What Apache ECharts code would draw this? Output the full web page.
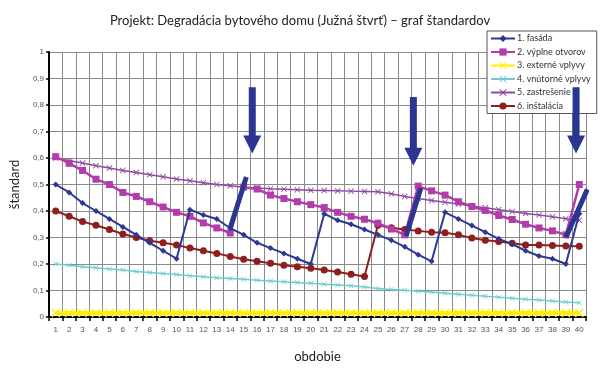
<!DOCTYPE html>
<html>
<head>
<meta charset="utf-8">
<script src="https://cdn.jsdelivr.net/npm/echarts@6/dist/echarts.min.js"></script>
<style>html,body{margin:0;padding:0;background:#fff}#c{width:600px;height:368px}</style>
</head>
<body>
<div id="c"></div>
<script>
const periods = ['1','2','3','4','5','6','7','8','9','10','11','12','13','14','15','16','17','18','19','20',
  '21','22','23','24','25','26','27','28','29','30','31','32','33','34','35','36','37','38','39','40'];
const yTicks = [0,0.1,0.2,0.3,0.4,0.5,0.6,0.7,0.8,0.9,1];

const fasada = [0.50,0.47,0.43,0.40,0.37,0.34,0.31,0.28,0.25,0.22,
  0.405,0.385,0.37,0.335,0.31,0.28,0.26,0.24,0.22,0.20,
  0.39,0.365,0.35,0.33,0.31,0.29,0.265,0.235,0.21,0.395,
  0.37,0.345,0.32,0.295,0.275,0.25,0.23,0.22,0.20,0.39];
const vyplne = [0.605,0.58,0.553,0.52,0.50,0.47,0.455,0.435,0.415,0.395,
  0.38,0.355,0.336,0.317,0.49,0.483,0.46,0.447,0.435,0.424,
  0.413,0.395,0.38,0.369,0.354,0.332,0.31,0.494,0.476,0.46,
  0.435,0.417,0.402,0.383,0.368,0.35,0.336,0.325,0.31,0.50];
const externe = [0.015,0.015,0.015,0.015,0.015,0.015,0.015,0.015,0.015,0.015,
  0.015,0.015,0.015,0.015,0.015,0.015,0.015,0.015,0.015,0.015,
  0.015,0.015,0.015,0.015,0.015,0.015,0.015,0.015,0.015,0.015,
  0.015,0.015,0.015,0.015,0.015,0.015,0.015,0.015,0.015,0.015];
const vnutorne = [0.200,0.195,0.190,0.186,0.181,0.177,0.172,0.168,0.164,0.160,
  0.156,0.152,0.148,0.145,0.142,0.139,0.136,0.133,0.130,0.127,
  0.124,0.121,0.118,0.113,0.108,0.104,0.101,0.097,0.094,0.090,
  0.086,0.082,0.078,0.075,0.071,0.067,0.064,0.060,0.057,0.054];
const zastresenie = [0.600,0.590,0.581,0.571,0.562,0.553,0.545,0.537,0.529,0.521,
  0.514,0.507,0.500,0.495,0.490,0.487,0.484,0.482,0.480,0.478,
  0.477,0.476,0.475,0.474,0.473,0.465,0.455,0.447,0.440,0.433,
  0.426,0.419,0.412,0.405,0.398,0.391,0.385,0.378,0.371,0.365];
const instalacia = [0.40,0.38,0.36,0.346,0.33,0.313,0.30,0.288,0.28,0.272,
  0.26,0.25,0.24,0.228,0.218,0.21,0.203,0.195,0.19,0.184,
  0.177,0.17,0.161,0.153,0.346,0.337,0.33,0.325,0.32,0.318,
  0.31,0.298,0.29,0.285,0.278,0.272,0.272,0.27,0.268,0.267];

const seriesNames = ['1. fasáda','2. výplne otvorov','3. externé vplyvy','4. vnútorné vplyvy','5. zastrešenie','6. inštalácia'];

// annotations (in period units on a hidden continuous axis)
const jumpSegments = [
  [[14.0,0.336],[15.2,0.528]],
  [[27.1,0.306],[28.2,0.487]],
  [[39.0,0.300],[40.6,0.482]]
];
const arrowX = [15.64, 27.64, 39.76];
const arrowTop = [0.867, 0.830, 0.867];
const arrowHead = [0.651, 0.605, 0.651];

const xPath = 'path://M0,1 L1,0 L5,4 L9,0 L10,1 L6,5 L10,9 L9,10 L5,6 L1,10 L0,9 L4,5 Z';

function mk(name, data, color, symbol, size, width, z) {
  return {
    name: name, type: 'line', data: data, symbol: symbol, symbolSize: size,
    showSymbol: true, z: z,
    lineStyle: {color: color, width: width},
    itemStyle: {color: color},
    emphasis: {disabled: true}, animation: false
  };
}

const series = [
  mk(seriesNames[2], externe, '#FFF000', xPath, 9, 4, 3),
  mk(seriesNames[3], vnutorne, '#6CCDCD', xPath, 5, 1.5, 3),
  mk(seriesNames[4], zastresenie, '#8E48A6', xPath, 6, 1.5, 3),
  mk(seriesNames[5], instalacia, '#8E1F1F', 'circle', 7, 2, 4),
  mk(seriesNames[1], vyplne, '#B23DAA', 'rect', 7, 2.5, 4),
  mk(seriesNames[0], fasada, '#2D3990', 'diamond', 6, 2, 5)
];

jumpSegments.forEach(function (seg) {
  series.push({
    type: 'line', xAxisIndex: 1, data: seg, symbol: 'none', clip: false, z: 8,
    lineStyle: {color: '#2B3592', width: 5}, silent: true, animation: false
  });
});
arrowX.forEach(function (x, i) {
  series.push({
    type: 'line', xAxisIndex: 1, data: [[x, arrowTop[i]], [x, arrowHead[i] + 0.02]], symbol: 'none', clip: false, z: 10,
    lineStyle: {color: '#2B3592', width: 7, cap: 'butt'}, silent: true, animation: false
  });
  series.push({
    type: 'scatter', xAxisIndex: 1, data: [[x, arrowHead[i]]], symbol: 'triangle', symbolRotate: 180,
    symbolSize: [18, 18], clip: false, z: 10, itemStyle: {color: '#2B3592', opacity: 1}, silent: true, animation: false
  });
});

const chart = echarts.init(document.getElementById('c'), null, {renderer: 'canvas'});
chart.setOption({
  animation: false,
  backgroundColor: '#fff',
  title: {
    text: 'Projekt: Degradácia bytového domu (Južná štvrť) – graf štandardov',
    left: 'center', top: 9,
    textStyle: {fontFamily: 'Lato', fontSize: 13, fontWeight: 'normal', color: '#222'}
  },
  legend: {
    data: seriesNames.map(function (n) { return {name: n}; }),
    orient: 'vertical', left: 487, top: 31, itemGap: 4.5, itemWidth: 24, itemHeight: 9,
    borderColor: '#555', borderWidth: 1, padding: [3, 6, 3, 3], backgroundColor: '#fff',
    textStyle: {fontFamily: 'Lato', fontSize: 9, color: '#333', padding: [0, 0, 0, -3]},
    z: 6
  },
  grid: {left: 48, right: 14, top: 52, bottom: 45},
  xAxis: [{
    type: 'category', data: periods, boundaryGap: true,
    name: 'obdobie', nameLocation: 'middle', nameGap: 33,
    nameTextStyle: {fontFamily: 'Lato', fontSize: 13, color: '#222'},
    axisLine: {lineStyle: {color: '#000', width: 2}},
    axisTick: {show: true, interval: 0, length: 4, lineStyle: {color: '#000', width: 1.5}},
    axisLabel: {interval: 0, fontSize: 8, color: '#555', margin: 9, fontFamily: 'Liberation Sans'},
    splitLine: {show: true, interval: 0, lineStyle: {color: '#8a8a8a', width: 1}}
  }, {
    type: 'value', min: 0.5, max: 40.5, show: false, splitLine: {show: false}
  }],
  yAxis: {
    type: 'value', min: yTicks[0], max: yTicks[yTicks.length - 1], interval: 0.1,
    name: 'štandard', nameLocation: 'middle', nameGap: 28,
    nameTextStyle: {fontFamily: 'Lato', fontSize: 13, color: '#222'},
    axisLine: {show: true, lineStyle: {color: '#000', width: 2}},
    axisTick: {show: true, length: 3, lineStyle: {color: '#000', width: 1.5}},
    axisLabel: {fontSize: 8, color: '#555', margin: 5, fontFamily: 'Liberation Sans',
      formatter: function (v) { return String(Math.round(v * 10) / 10).replace('.', ','); }},
    splitLine: {show: true, lineStyle: {color: '#8a8a8a', width: 1}}
  },
  series: series
});
</script>
</body>
</html>
